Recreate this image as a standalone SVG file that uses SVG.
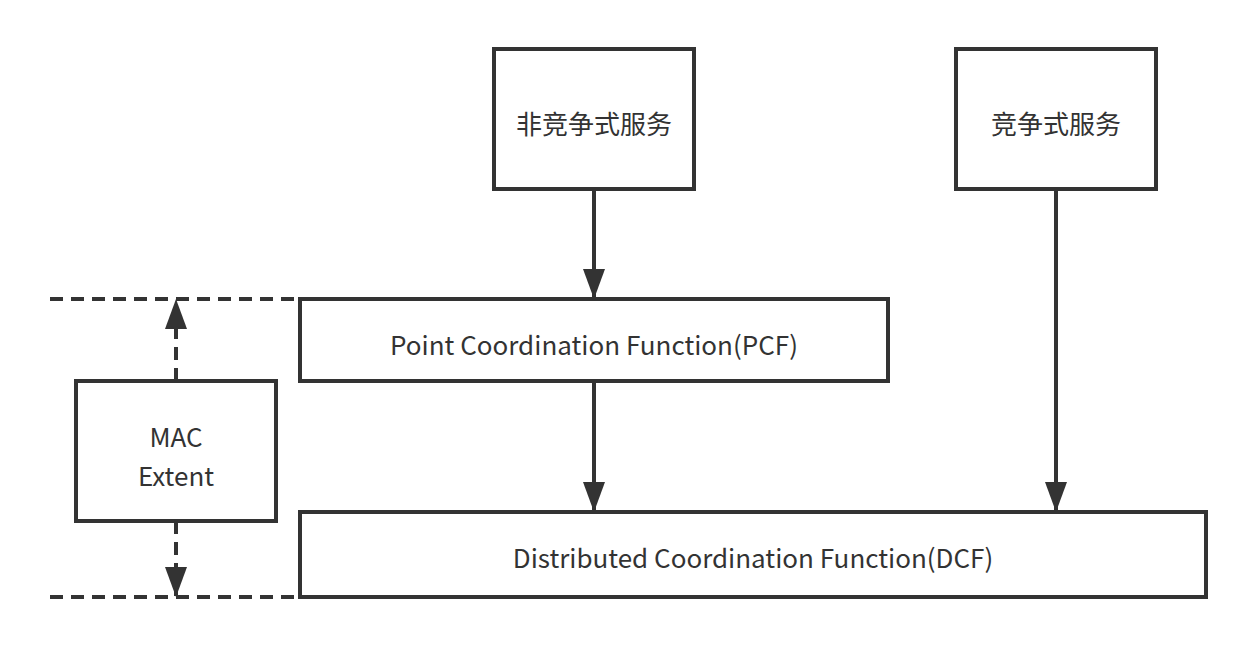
<svg xmlns="http://www.w3.org/2000/svg" width="1256" height="647" viewBox="0 0 1256 647">
<style>
.box{fill:#fff;stroke:#333;stroke-width:4}
.t{font-family:"Noto Sans CJK SC","Noto Sans",sans-serif;font-size:26px;fill:#333;text-anchor:middle;dominant-baseline:central}
.ln{stroke:#333;stroke-width:4;fill:none}
.dash{stroke:#333;stroke-width:4;fill:none;stroke-dasharray:13 8}
</style>
<defs>
<marker id="ah" markerUnits="userSpaceOnUse" markerWidth="30" markerHeight="22" refX="29" refY="11" orient="auto" viewBox="0 0 30 22">
<path d="M0,0 L30,11 L0,22 Z" fill="#333"/>
</marker>
</defs>
<rect width="1256" height="647" fill="#fff"/>
<g id="connectors">
<line class="dash" x1="50" y1="299" x2="300" y2="299"/>
<line class="dash" x1="50" y1="597" x2="300" y2="597"/>
<line class="dash" x1="176" y1="381" x2="176" y2="300" marker-end="url(#ah)"/>
<line class="dash" x1="176" y1="521" x2="176" y2="596" marker-end="url(#ah)"/>
<line class="ln" x1="594" y1="189" x2="594" y2="298" marker-end="url(#ah)"/>
<line class="ln" x1="594" y1="381" x2="594" y2="511" marker-end="url(#ah)"/>
<line class="ln" x1="1056" y1="189" x2="1056" y2="511" marker-end="url(#ah)"/>
</g>
<g id="n1"><rect class="box" x="494" y="49" width="200" height="140"/><text class="t" x="594" y="122">非竞争式服务</text></g>
<g id="n2"><rect class="box" x="956" y="49" width="200" height="140"/><text class="t" x="1056" y="122">竞争式服务</text></g>
<g id="pcf"><rect class="box" x="300" y="299" width="588" height="82"/><text class="t" x="594" y="343">Point Coordination Function(PCF)</text></g>
<g id="dcf"><rect class="box" x="300" y="512" width="906" height="85"/><text class="t" x="753" y="556">Distributed Coordination Function(DCF)</text></g>
<g id="mac"><rect class="box" x="76" y="381" width="200" height="140"/><text class="t" x="176" y="435">MAC</text><text class="t" x="176" y="474">Extent</text></g>
</svg>
